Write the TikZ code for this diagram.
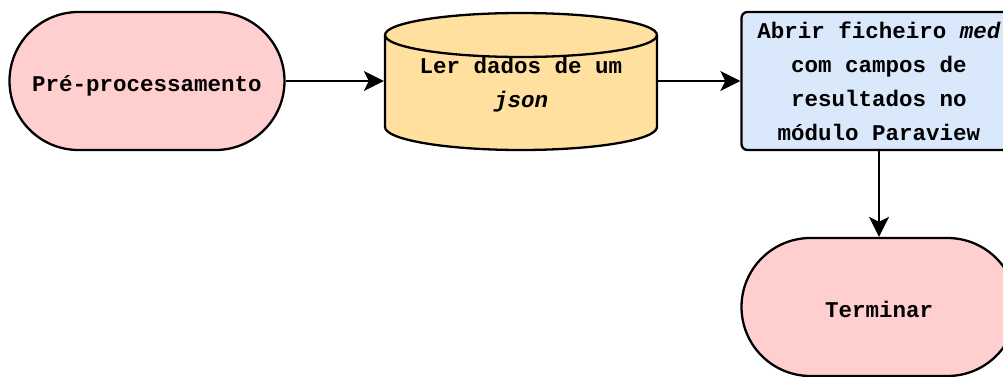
\documentclass[tikz,border=0pt]{standalone}
\usepackage{fontspec}
\setmonofont{Liberation Mono}
\usetikzlibrary{arrows.meta,shapes.misc}

\definecolor{termfill}{HTML}{FFCFCF}
\definecolor{datafill}{HTML}{FFE09E}
\definecolor{procfill}{HTML}{DAE8FC}

\begin{document}
\begin{tikzpicture}[x=1pt,y=1pt,
  line width=2.3pt,
  txt/.style={font=\ttfamily\bfseries\fontsize{22.5}{34.2}\selectfont, align=center},
  term/.style={txt, draw, fill=termfill, rounded rectangle,
    minimum width=275pt, minimum height=138pt, inner sep=0pt,
    text height=21pt, text depth=0pt},
  proc/.style={txt, draw, fill=procfill, rounded corners=6pt,
    minimum width=275pt, minimum height=138pt, inner sep=0pt},
  datashape/.style={draw, fill=datafill, line join=round},
  link/.style={-{Stealth[length=20pt,width=20pt,inset=5pt]}, line width=2.2pt}]

\useasboundingbox (0,0) rectangle (1003,376);
\clip (0,0) rectangle (1003,376);

% start terminator
\node[term] (pre) at (147,295) {Pr\'e-processamento};

% data store drawn as a cylinder
\filldraw[datashape] (385,341) -- (385,249)
  arc[start angle=180, end angle=360, x radius=136pt, y radius=23pt]
  -- (657,341)
  arc[start angle=0, end angle=180, x radius=136pt, y radius=22pt] -- cycle;
\draw (385,341) arc[start angle=180, end angle=360, x radius=136pt, y radius=22pt];
\node[txt, minimum width=272pt, inner sep=0pt] (cyl) at (521,291.6)
  {Ler dados de um\\\textit{json}};

% processing step, four evenly spaced lines
\node[proc] (open) at (879,295)
  {\raisebox{-1.5pt}[\height][\depth]{\begin{tabular}{@{}c@{}}
    Abrir ficheiro \textit{med}\\com campos de\\resultados no\\m\'odulo Paraview
  \end{tabular}}};

% end terminator
\node[term] (end) at (879,69) {Terminar};

% connectors
\draw[link] (pre.east) -- (pre.east -| cyl.west);
\draw[link] (pre.east -| cyl.east) -- (pre.east -| open.west);
\draw[link] (open.south) -- (end.north);
\end{tikzpicture}
\end{document}
